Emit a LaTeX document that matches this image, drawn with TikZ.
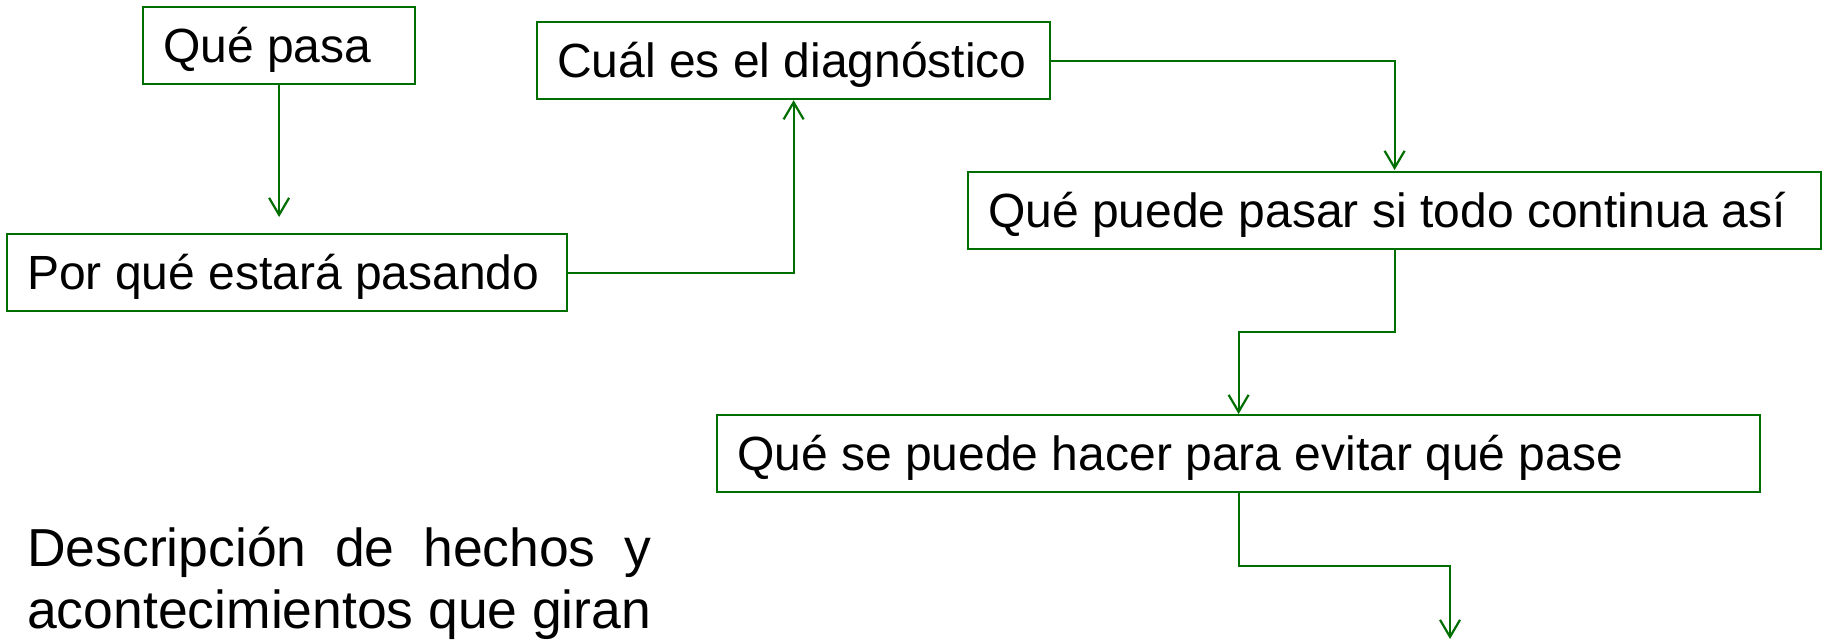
\documentclass[tikz,border=0pt]{standalone}
\usepackage{fontspec}
\setmainfont{Liberation Sans}
\usetikzlibrary{arrows.meta,calc}
\definecolor{boxgreen}{RGB}{0,110,0}
\newcommand{\boxtext}[2]{\makebox[#1][l]{#2}}
\begin{document}
\begin{tikzpicture}[x=1pt,y=-1pt,
  qbox/.style={draw=boxgreen, line width=2.2pt, rectangle, anchor=north west,
    inner xsep=20pt, inner ysep=0pt, minimum height=77pt,
    text height=34.5pt, text depth=0pt,
    font=\fontsize{48}{56}\selectfont},
  link/.style={draw=boxgreen, line width=2.2pt},
  arr/.style={link, -{Straight Barb[length=17pt,width=20pt,line width=2.2pt]}}
]
\useasboundingbox (0,0) rectangle (1825,643);
\node[qbox] (a) at (142,6) {\boxtext{232pt}{Qué pasa}};
\node[qbox] (b) at (6,233) {\boxtext{520pt}{Por qué estará pasando}};
\node[qbox] (c) at (536,21) {\boxtext{473pt}{Cuál es el diagnóstico}};
\node[qbox] (d) at (967,171) {\boxtext{813pt}{Qué puede pasar si todo continua así}};
\node[qbox] (e) at (716,414) {\boxtext{1003pt}{Qué se puede hacer para evitar qué pase}};
\coordinate (end) at (1450,639);
\node[anchor=base west, inner sep=0pt, font=\fontsize{53.5}{62}\selectfont] (desc) at (27,566)
  {\parbox[t]{624pt}{\makebox[624pt][s]{Descripción de hechos y}\\
   \makebox[624pt][s]{acontecimientos que giran}}};
\draw[arr, shorten >=16pt] (a.south) -- (a.south |- b.north);
\draw[arr] (b.east) -| (c.south);
\draw[arr, shorten >=1pt] (c.east) -| (d.north);
\draw[arr] (d.south) |- ($(d.south)!.5!(e.north)$) -| (e.north);
\draw[arr] (e.south) |- ($(e.south)!.5!(end)$) -| (end);
\end{tikzpicture}
\end{document}
